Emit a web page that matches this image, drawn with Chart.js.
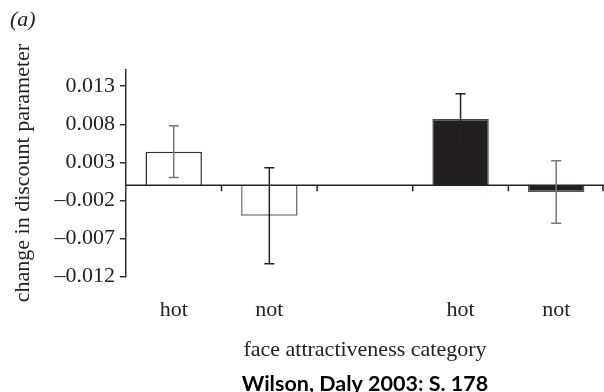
<!DOCTYPE html>
<html>
<head>
<meta charset="utf-8">
<script src="https://cdn.jsdelivr.net/npm/chart.js@4.4.1/dist/chart.umd.min.js"></script>
<style>
  body { margin: 0; background: #fff; }
  #wrap { width: 604px; height: 392px; position: relative; }
</style>
</head>
<body>
<div id="wrap"><canvas id="myChart"></canvas></div>
<script>
// Données
let categories = ["hot", "not", "", "hot", "not"];
let values = [0.0044, -0.0040, null, 0.0087, -0.0009];
let errors = [0.0034, 0.0063, null, 0.0033, 0.0041];
let yTicks = [-0.012, -0.007, -0.002, 0.003, 0.008, 0.013];
let captionText = "Wilson, Daly 2003: S. 178";

// Couleurs
let fillColors = ["#ffffff", "#ffffff", "#ffffff", "#231f20", "#231f20"];
let edgeColors = ["#333333", "#666666", "#333333", "#444444", "#555555"];
let errColors = ["#777777", "#222222", "#222222", "#222222", "#777777"];

let serif = "'Liberation Serif', 'DejaVu Serif', serif";
let captionSpace = 18.5;

// Ligne du zéro avec petites graduations entre les catégories
const zeroLine = {
  id: "zeroLine",
  afterDatasetsDraw(chart) {
    const ctx = chart.ctx;
    const x = chart.scales.x;
    const y = chart.scales.y;
    const y0 = y.getPixelForValue(0);
    const half = (x.getPixelForValue(1) - x.getPixelForValue(0)) / 2;
    ctx.save();
    ctx.strokeStyle = "#222";
    ctx.lineWidth = 1.5;
    ctx.beginPath();
    ctx.moveTo(chart.chartArea.left, y0);
    ctx.lineTo(chart.chartArea.right, y0);
    categories.forEach((c, i) => {
      const xb = Math.min(x.getPixelForValue(i) + half, chart.chartArea.right - 1);
      ctx.moveTo(xb, y0);
      ctx.lineTo(xb, y0 + 6);
    });
    ctx.stroke();
    ctx.restore();
  }
};

// Barres d'erreur
const errorBars = {
  id: "errorBars",
  afterDatasetsDraw(chart) {
    const ctx = chart.ctx;
    const x = chart.scales.x;
    const y = chart.scales.y;
    ctx.save();
    ctx.lineWidth = 1.5;
    values.forEach((v, i) => {
      if (v === null) return;
      const px = x.getPixelForValue(i);
      const top = y.getPixelForValue(v + errors[i]);
      const bot = y.getPixelForValue(v - errors[i]);
      ctx.strokeStyle = errColors[i];
      ctx.beginPath();
      ctx.moveTo(px, top);
      ctx.lineTo(px, bot);
      ctx.moveTo(px - 5, top);
      ctx.lineTo(px + 5, top);
      ctx.moveTo(px - 5, bot);
      ctx.lineTo(px + 5, bot);
      ctx.stroke();
    });
    ctx.restore();
  }
};

// Légende de la source, centrée sous la zone du graphique
const caption = {
  id: "caption",
  afterDraw(chart) {
    const ctx = chart.ctx;
    const area = chart.chartArea;
    ctx.save();
    ctx.fillStyle = "#000";
    ctx.font = "bold 21.5px Lato, 'Open Sans', sans-serif";
    ctx.textAlign = "center";
    ctx.textBaseline = "middle";
    ctx.fillText(captionText, (area.left + area.right) / 2, chart.height - captionSpace + 10.75);
    ctx.restore();
  }
};

const ctx = document.getElementById("myChart");
let varChart = new Chart(ctx, {
  type: "bar",
  data: {
    labels: categories,
    datasets: [{
      data: values,
      backgroundColor: fillColors,
      borderColor: edgeColors,
      borderWidth: 1.5,
      barPercentage: 0.59,
      categoryPercentage: 1
    }]
  },
  options: {
    responsive: true,
    maintainAspectRatio: false,
    animation: false,
    layout: { padding: { left: 10, right: 0, top: 0, bottom: captionSpace } },
    plugins: {
      legend: { display: false },
      tooltip: { enabled: false },
      subtitle: {
        display: true,
        text: "(a)",
        align: "start",
        position: "top",
        color: "#222",
        font: { family: serif, size: 22, style: "italic" },
        padding: { top: 7, bottom: 36 }
      }
    },
    scales: {
      x: {
        grid: { display: false },
        border: { display: false },
        ticks: {
          color: "#222",
          font: { family: serif, size: 22 },
          padding: 12
        },
        title: {
          display: true,
          text: "face attractiveness category",
          color: "#222",
          font: { family: serif, size: 22 },
          padding: { top: 2, bottom: 10 }
        }
      },
      y: {
        min: -0.012,
        max: 0.0152,
        afterBuildTicks: s => { s.ticks = yTicks.map(v => ({ value: v })); },
        grid: { drawOnChartArea: false, drawTicks: true, tickLength: 6, color: "#333", lineWidth: 1.5 },
        border: { display: true, color: "#333", width: 1.5 },
        ticks: {
          color: "#222",
          font: { family: serif, size: 22 },
          padding: 5,
          callback: v => (v < 0 ? "\u2013" : "") + Math.abs(v).toFixed(3)
        },
        title: {
          display: true,
          text: "change in discount parameter",
          color: "#222",
          font: { family: serif, size: 22 },
          padding: { top: 0, bottom: 13 }
        }
      }
    }
  },
  plugins: [zeroLine, errorBars, caption]
});
</script>
</body>
</html>
